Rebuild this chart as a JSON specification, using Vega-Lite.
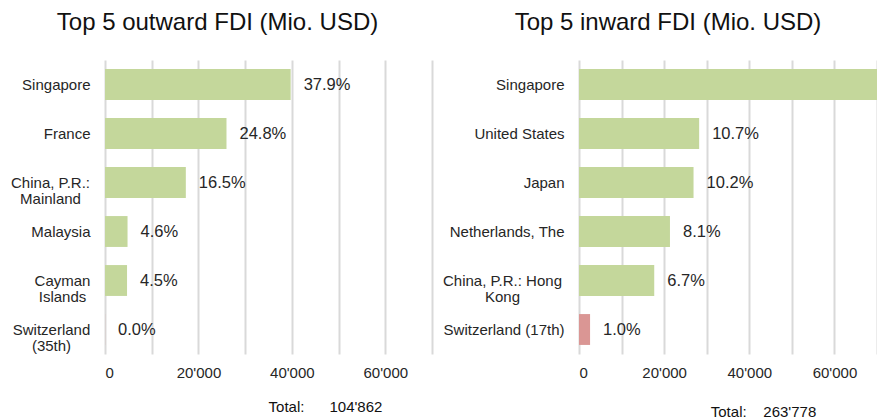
{
  "$schema": "https://vega.github.io/schema/vega-lite/v6.json",
  "background": "white",
  "padding": {"left": 10, "top": 11, "right": 0, "bottom": 0},
  "config": {
    "view": {"stroke": null},
    "font": "Liberation Sans",
    "concat": {"spacing": 10},
    "title": {"font": "Liberation Sans", "fontSize": 24, "fontWeight": "normal", "color": "#111111", "anchor": "middle", "offset": 25},
    "axisX": {"grid": true, "gridColor": "#d9d9d9", "gridWidth": 2, "domain": false, "ticks": false, "labelFontSize": 15, "labelColor": "#262626", "labelPadding": 11, "values": [0, 20000, 40000, 60000], "labelExpr": "replace(format(datum.value, ','), ',', \"'\")", "titleFontSize": 15, "titleFontWeight": "normal", "titleColor": "#111111", "titleAlign": "center", "titleBaseline": "middle"},
    "axisY": {"grid": false, "domain": false, "ticks": false, "labelFontSize": 15, "labelColor": "#262626", "labelLineHeight": 16, "labelExpr": "split(datum.label, '\\n')", "title": null}
  },
  "datasets": {
    "outward": [
      {"country": "Singapore", "value": 39743, "pct": "37.9%"},
      {"country": "France", "value": 26006, "pct": "24.8%"},
      {"country": "China, P.R.:\nMainland", "value": 17302, "pct": "16.5%"},
      {"country": "Malaysia", "value": 4824, "pct": "4.6%"},
      {"country": "Cayman\nIslands", "value": 4719, "pct": "4.5%"},
      {"country": "Switzerland\n(35th)", "value": 20, "pct": "0.0%"}
    ],
    "inward": [
      {"country": "Singapore", "value": 92000, "pct": "34.9%"},
      {"country": "United States", "value": 28224, "pct": "10.7%"},
      {"country": "Japan", "value": 26905, "pct": "10.2%"},
      {"country": "Netherlands, The", "value": 21366, "pct": "8.1%"},
      {"country": "China, P.R.: Hong\nKong", "value": 17673, "pct": "6.7%"},
      {"country": "Switzerland (17th)", "value": 2600, "pct": "1.0%"}
    ]
  },
  "hconcat": [
    {
      "data": {"name": "outward"},
      "width": 327,
      "height": 294,
      "title": {"text": "Top 5 outward FDI (Mio. USD)", "dx": -51},
      "encoding": {
        "y": {"field": "country", "type": "nominal", "sort": null,
          "scale": {"paddingInner": 0.37, "paddingOuter": 0.185},
          "axis": {
            "labelAlign": {"condition": {"test": "indexof(datum.value, '\\n') >= 0", "value": "center"}, "value": "right"},
            "labelPadding": {"condition": [
              {"test": "indexof(datum.value, 'Mainland') >= 0", "value": 55},
              {"test": "indexof(datum.value, 'Cayman') >= 0", "value": 43},
              {"test": "indexof(datum.value, '35th') >= 0", "value": 54}
            ], "value": 15}
          }},
        "x": {"field": "value", "type": "quantitative", "scale": {"domain": [0, 70000], "nice": false},
          "axis": {"title": "Total:\u00a0\u00a0\u00a0\u00a0\u00a0\u00a0104'862", "titleX": 220, "titleY": 52}}
      },
      "layer": [
        {"mark": {"type": "bar", "clip": true},
         "encoding": {"color": {"condition": {"test": "indexof(datum.country, 'Switzerland') >= 0", "value": "#da9694"}, "value": "#c4d79b"}}},
        {"mark": {"type": "text", "align": "left", "baseline": "middle", "dx": 13, "fontSize": 16.5, "color": "#262626"},
         "encoding": {"text": {"field": "pct"}}}
      ]
    },
    {
      "data": {"name": "inward"},
      "width": 298,
      "height": 294,
      "title": {"text": "Top 5 inward FDI (Mio. USD)", "dx": -60},
      "encoding": {
        "y": {"field": "country", "type": "nominal", "sort": null,
          "scale": {"paddingInner": 0.37, "paddingOuter": 0.185},
          "axis": {
            "labelAlign": {"condition": {"test": "indexof(datum.value, '\\n') >= 0", "value": "center"}, "value": "right"},
            "labelPadding": {"condition": {"test": "indexof(datum.value, 'Hong') >= 0", "value": 77}, "value": 15}
          }},
        "x": {"field": "value", "type": "quantitative", "scale": {"domain": [0, 70000], "nice": false},
          "axis": {"title": "Total:\u00a0\u00a0\u00a0\u00a0263'778", "titleX": 184, "titleY": 57}}
      },
      "layer": [
        {"mark": {"type": "bar", "clip": true},
         "encoding": {"color": {"condition": {"test": "indexof(datum.country, 'Switzerland') >= 0", "value": "#da9694"}, "value": "#c4d79b"}}},
        {"mark": {"type": "text", "align": "left", "baseline": "middle", "dx": 13, "fontSize": 16.5, "color": "#262626", "clip": true},
         "encoding": {"text": {"field": "pct"}}}
      ]
    }
  ]
}
